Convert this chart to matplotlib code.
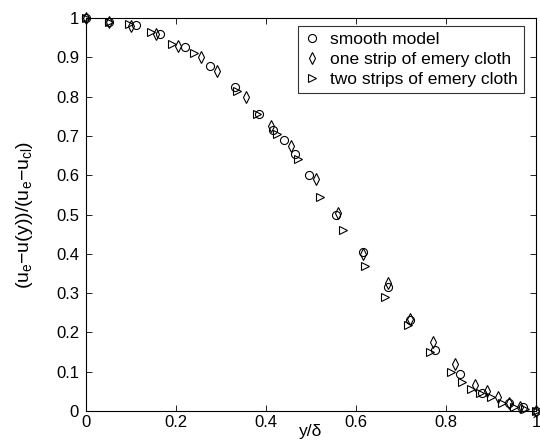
import matplotlib
matplotlib.use("Agg")
import matplotlib.pyplot as plt

plt.rcParams['font.family'] = ['Liberation Sans', 'DejaVu Sans']
plt.rcParams['mathtext.fontset'] = 'custom'
plt.rcParams['mathtext.rm'] = 'Liberation Sans'
plt.rcParams['mathtext.it'] = 'Liberation Sans'

smooth_x = [0.0, 0.05, 0.11, 0.165, 0.22, 0.275, 0.33, 0.385, 0.415, 0.44, 0.465, 0.495,
            0.555, 0.615, 0.67, 0.72, 0.775, 0.83, 0.88, 0.94, 0.97, 1.0]
smooth_y = [1.0, 0.99, 0.983, 0.96, 0.925, 0.877, 0.825, 0.755, 0.715, 0.69, 0.655, 0.6,
            0.5, 0.405, 0.315, 0.232, 0.155, 0.095, 0.045, 0.02, 0.01, 0.0]

one_x = [0.0, 0.05, 0.1, 0.155, 0.205, 0.255, 0.29, 0.355, 0.41, 0.455, 0.51,
         0.56, 0.615, 0.67, 0.72, 0.77, 0.82, 0.865, 0.89, 0.915, 0.94, 0.965, 1.0]
one_y = [1.0, 0.99, 0.98, 0.96, 0.93, 0.9, 0.865, 0.8, 0.725, 0.675, 0.59,
         0.505, 0.4, 0.325, 0.235, 0.175, 0.12, 0.065, 0.05, 0.035, 0.02, 0.01, 0.0]

two_x = [0.0, 0.05, 0.095, 0.145, 0.19, 0.24, 0.335, 0.38, 0.425, 0.47, 0.52,
         0.57, 0.62, 0.665, 0.715, 0.765, 0.81, 0.835, 0.855, 0.875, 0.9, 0.925, 0.95, 0.975, 1.0]
two_y = [1.0, 0.99, 0.985, 0.965, 0.935, 0.91, 0.815, 0.755, 0.705, 0.64, 0.545,
         0.46, 0.37, 0.29, 0.22, 0.15, 0.1, 0.075, 0.055, 0.045, 0.035, 0.02, 0.01, 0.005, 0.0]

xticks = [0, 0.2, 0.4, 0.6, 0.8, 1]
xticklabels = ['0', '0.2', '0.4', '0.6', '0.8', '1']
yticks = [0, 0.1, 0.2, 0.3, 0.4, 0.5, 0.6, 0.7, 0.8, 0.9, 1]
yticklabels = ['0', '0.1', '0.2', '0.3', '0.4', '0.5', '0.6', '0.7', '0.8', '0.9', '1']

fig = plt.figure(figsize=(5.4, 4.42), dpi=100)
ax = fig.add_axes([86/540, 31/442, 450/540, 393/442])

mk = dict(linestyle='none', markerfacecolor='none', markeredgecolor='black',
          markeredgewidth=0.8, markersize=5.8, clip_on=False)
ax.plot(smooth_x, smooth_y, marker='o', label='smooth model', **mk)
ax.plot(one_x, one_y, marker='d', label='one strip of emery cloth', **mk)
ax.plot(two_x, two_y, marker='>', label='two strips of emery cloth', **mk)

ax.set_xlim(0, 1)
ax.set_ylim(0, 1)
ax.set_xticks(xticks)
ax.set_xticklabels(xticklabels)
ax.set_yticks(yticks)
ax.set_yticklabels(yticklabels)
ax.tick_params(direction='in', length=4, width=0.6, labelsize=12,
               top=True, right=True)
ax.tick_params(axis='x', pad=3)
ax.tick_params(axis='y', pad=5)
for s in ax.spines.values():
    s.set_linewidth(0.8)

ax.set_xlabel('y/δ', fontsize=12.5)
ax.xaxis.set_label_coords(0.5, -0.034)
ax.set_ylabel(r'(u$_\mathrm{e}$−u(y))/(u$_\mathrm{e}$−u$_\mathrm{cl}$)', fontsize=14, labelpad=15)

leg = ax.legend(loc='upper right', fontsize=12.5, frameon=True, fancybox=False,
                edgecolor='black', handlelength=0.9, handletextpad=0.6,
                borderpad=0.35, labelspacing=0.28, borderaxespad=0.0,
                bbox_to_anchor=(524/540, (442-26)/442), bbox_transform=fig.transFigure)
leg.get_frame().set_linewidth(0.8)

fig.savefig('out.png', dpi=100)
